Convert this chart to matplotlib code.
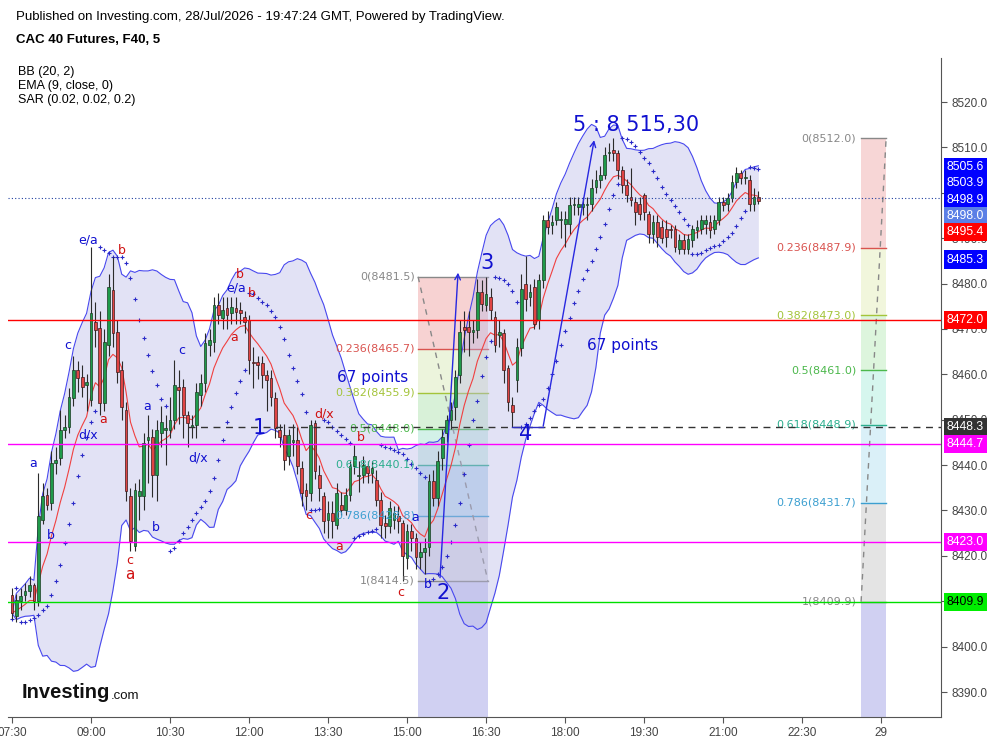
import matplotlib
matplotlib.use("Agg")
import matplotlib.pyplot as plt
import numpy as np
import pandas as pd
from matplotlib.transforms import blended_transform_factory

# 5-minute candles, CAC 40 futures, 07:30 onwards (bar index 0 = 07:30)
opens = [8411.4, 8406.7, 8410.0, 8411.4, 8412.2, 8413.6, 8410.0, 8428.0, 8433.4, 8431.6,
         8440.4, 8441.5, 8447.8, 8448.5, 8454.7, 8461.0, 8459.5, 8457.7, 8454.4, 8471.6,
         8470.1, 8453.6, 8466.5, 8478.6, 8469.4, 8461.0, 8452.2, 8433.1, 8422.1, 8433.1,
         8433.1, 8445.6, 8446.3, 8437.9, 8447.0, 8447.8, 8447.8, 8450.0, 8457.3, 8457.3,
         8451.1, 8448.5, 8448.9, 8455.5, 8458.0, 8466.5, 8467.2, 8475.3, 8472.4, 8474.6,
         8473.5, 8474.7, 8474.2, 8472.7, 8472.0, 8462.8, 8462.8, 8462.4, 8459.9, 8459.1,
         8454.7, 8447.8, 8446.7, 8441.9, 8445.2, 8445.6, 8439.3, 8434.6, 8433.8, 8449.2,
         8437.9, 8433.1, 8427.9, 8429.4, 8426.8, 8431.3, 8430.2, 8433.5, 8439.7, 8437.5,
         8437.9, 8439.7, 8438.2, 8436.8, 8432.4, 8427.2, 8426.5, 8428.0, 8428.7, 8427.2,
         8419.5, 8425.4, 8423.9, 8419.8, 8420.9, 8422.0, 8436.4, 8432.7, 8441.5, 8447.0,
         8449.9, 8452.9, 8459.9, 8470.5, 8470.5, 8469.4, 8469.8, 8478.2, 8475.3, 8477.1,
         8472.7, 8468.7, 8469.0, 8461.3, 8453.2, 8458.8, 8465.7, 8480.0, 8477.1, 8479.3,
         8472.0, 8480.8, 8494.0, 8492.9, 8494.0, 8494.0, 8493.2, 8493.2, 8497.3, 8496.9,
         8496.9, 8497.3, 8497.6, 8501.3, 8502.8, 8503.9, 8508.7, 8509.4, 8508.7, 8505.0,
         8501.7, 8499.1, 8498.0, 8497.6, 8499.5, 8495.4, 8491.0, 8493.6, 8492.5, 8492.1,
         8491.9, 8492.1, 8487.7, 8489.6, 8487.7, 8489.6, 8491.8, 8492.1, 8493.2, 8493.6,
         8492.1, 8494.0, 8498.0, 8497.6, 8498.8, 8502.4, 8504.3, 8503.2, 8502.8, 8497.6,
         8499.0]
closes = [8407.4, 8410.3, 8411.1, 8412.2, 8413.6, 8410.0, 8428.7, 8433.1, 8431.2, 8440.4,
          8441.2, 8447.8, 8448.5, 8455.1, 8461.0, 8459.1, 8457.3, 8458.4, 8473.5, 8469.8,
          8453.6, 8467.2, 8479.3, 8469.0, 8460.6, 8452.9, 8434.2, 8423.2, 8434.5, 8434.2,
          8444.8, 8446.3, 8437.9, 8447.8, 8449.6, 8448.1, 8450.0, 8457.7, 8456.6, 8451.1,
          8449.2, 8448.9, 8456.2, 8458.0, 8467.0, 8467.6, 8475.3, 8473.1, 8474.2, 8473.1,
          8474.9, 8473.8, 8473.5, 8471.6, 8463.2, 8462.4, 8462.1, 8459.9, 8458.8, 8455.1,
          8448.1, 8446.3, 8441.2, 8446.7, 8445.6, 8439.7, 8433.8, 8433.1, 8448.9, 8438.6,
          8434.9, 8427.6, 8429.4, 8427.6, 8433.8, 8430.2, 8433.5, 8439.7, 8441.9, 8437.9,
          8440.1, 8438.2, 8439.3, 8432.4, 8426.8, 8426.5, 8430.5, 8429.4, 8427.6, 8419.9,
          8425.4, 8423.9, 8419.8, 8420.9, 8421.7, 8436.4, 8432.7, 8440.8, 8446.3, 8449.9,
          8452.1, 8459.5, 8469.4, 8469.8, 8469.4, 8469.8, 8478.2, 8475.6, 8477.8, 8474.2,
          8466.5, 8469.4, 8461.0, 8454.0, 8451.8, 8466.1, 8478.9, 8476.7, 8478.2, 8471.2,
          8480.8, 8494.0, 8492.5, 8493.6, 8496.9, 8494.3, 8494.3, 8497.3, 8497.6, 8497.6,
          8497.6, 8497.6, 8501.0, 8502.8, 8503.9, 8508.3, 8509.0, 8508.7, 8505.0, 8501.7,
          8499.5, 8498.4, 8495.8, 8495.4, 8495.8, 8491.0, 8493.6, 8490.3, 8490.0, 8490.3,
          8491.8, 8488.1, 8489.6, 8487.7, 8489.9, 8492.1, 8492.5, 8494.0, 8494.0, 8491.8,
          8494.0, 8498.0, 8497.3, 8498.8, 8502.4, 8504.3, 8503.2, 8503.5, 8497.6, 8499.1,
          8498.3]
highs = [8412.9, 8411.5, 8413.0, 8414.0, 8415.5, 8414.0, 8438.2, 8436.0, 8435.0, 8443.0,
         8444.0, 8452.2, 8451.0, 8457.0, 8464.0, 8463.0, 8462.0, 8460.0, 8488.1, 8476.0,
         8474.0, 8470.0, 8482.0, 8485.9, 8472.0, 8463.0, 8454.0, 8435.0, 8436.0, 8437.0,
         8447.0, 8451.0, 8448.0, 8450.0, 8453.0, 8451.0, 8455.0, 8463.2, 8461.0, 8459.0,
         8452.0, 8451.0, 8458.0, 8460.0, 8469.0, 8470.0, 8477.0, 8478.0, 8477.0, 8477.0,
         8477.0, 8477.1, 8476.0, 8474.0, 8473.0, 8466.0, 8464.0, 8464.0, 8461.0, 8461.0,
         8456.0, 8449.0, 8449.0, 8448.0, 8449.0, 8448.5, 8441.0, 8436.0, 8450.0, 8450.0,
         8440.0, 8434.0, 8432.0, 8432.0, 8436.0, 8434.0, 8435.0, 8441.0, 8444.5, 8441.0,
         8442.0, 8441.0, 8441.0, 8439.0, 8434.0, 8429.0, 8432.0, 8431.0, 8431.0, 8428.0,
         8427.0, 8427.0, 8425.0, 8423.0, 8424.0, 8438.0, 8439.0, 8443.0, 8448.0, 8451.0,
         8454.0, 8461.0, 8472.0, 8474.0, 8474.0, 8472.0, 8481.0, 8480.8, 8481.5, 8479.0,
         8474.0, 8472.0, 8470.0, 8462.0, 8455.0, 8468.0, 8482.0, 8486.0, 8480.0, 8481.0,
         8482.0, 8495.0, 8496.0, 8495.0, 8498.0, 8496.0, 8496.0, 8499.0, 8499.0, 8499.0,
         8499.0, 8499.0, 8503.0, 8505.0, 8506.0, 8510.0, 8511.0, 8512.0, 8509.5, 8506.0,
         8503.0, 8505.4, 8499.0, 8499.0, 8500.0, 8496.0, 8495.0, 8495.0, 8494.0, 8494.0,
         8493.0, 8493.0, 8491.0, 8491.0, 8491.0, 8493.0, 8494.0, 8495.0, 8495.0, 8495.0,
         8495.0, 8499.0, 8499.0, 8500.0, 8504.0, 8505.6, 8505.0, 8505.0, 8504.0, 8501.0,
         8500.5]
lows = [8406.0, 8405.5, 8408.0, 8410.0, 8411.0, 8408.1, 8409.0, 8427.0, 8430.0, 8430.0,
        8438.0, 8440.0, 8446.0, 8447.0, 8453.0, 8456.0, 8455.0, 8452.0, 8453.0, 8466.0,
        8451.0, 8452.0, 8464.0, 8466.0, 8458.0, 8450.0, 8432.0, 8421.0, 8421.0, 8428.0,
        8430.0, 8436.0, 8433.0, 8432.0, 8444.0, 8440.0, 8446.0, 8448.0, 8449.0, 8446.0,
        8444.0, 8446.0, 8446.0, 8453.0, 8456.0, 8464.0, 8465.0, 8471.0, 8470.0, 8470.0,
        8471.0, 8471.0, 8471.0, 8469.0, 8460.0, 8457.0, 8459.0, 8457.0, 8452.0, 8453.0,
        8446.0, 8444.0, 8439.0, 8440.0, 8442.0, 8438.0, 8431.0, 8430.0, 8432.0, 8437.0,
        8432.0, 8425.0, 8424.0, 8424.0, 8426.0, 8429.0, 8429.0, 8432.0, 8438.0, 8434.0,
        8436.0, 8436.0, 8436.0, 8431.0, 8424.0, 8424.0, 8425.0, 8426.0, 8425.0, 8414.5,
        8417.0, 8421.0, 8417.0, 8417.0, 8416.0, 8420.0, 8431.0, 8431.0, 8439.0, 8445.0,
        8448.0, 8450.0, 8458.0, 8465.0, 8464.0, 8467.0, 8468.0, 8474.0, 8474.0, 8472.0,
        8465.0, 8466.0, 8458.0, 8452.0, 8448.3, 8456.0, 8464.0, 8474.0, 8475.0, 8470.0,
        8470.0, 8479.0, 8491.0, 8491.0, 8493.0, 8490.0, 8488.0, 8491.0, 8495.0, 8495.0,
        8495.0, 8494.0, 8496.0, 8500.0, 8501.0, 8503.0, 8507.0, 8507.0, 8503.0, 8500.0,
        8498.0, 8497.0, 8493.0, 8494.0, 8494.0, 8489.0, 8489.0, 8488.0, 8489.0, 8488.0,
        8490.0, 8487.0, 8486.5, 8486.5, 8486.5, 8488.0, 8490.0, 8491.0, 8491.0, 8490.0,
        8491.0, 8493.0, 8496.0, 8496.0, 8498.0, 8501.0, 8502.0, 8502.0, 8496.0, 8496.0,
        8497.5]

tick_pos = [0, 18, 36, 54, 72, 90, 108, 126, 144, 162, 180, 198]
tick_labels = ["07:30", "09:00", "10:30", "12:00", "13:30", "15:00", "16:30",
               "18:00", "19:30", "21:00", "22:30", "29"]

fib_ratios = [0, 0.236, 0.382, 0.5, 0.618, 0.786, 1]
fib_colors = ["#888888", "#d9534f", "#a4c43a", "#4cb84c", "#2cae8e", "#3c9fd0", "#888888"]
fib_zone_left = ["#f7d2d2", "#ecf4dc", "#d8f1d8", "#d3f1e8", "#c2ddef", "#dcdce6"]
fib_zone_right = ["#f7d6d6", "#f1f6dc", "#ddf5dd", "#d6f6ee", "#daf0f8", "#e4e4e4"]
fib1_high, fib1_low = 8481.5, 8414.5
fib2_high, fib2_low = 8512.0, 8409.9

hlines = [(8472.0, "#ff0000"), (8444.7, "#ff00ff"), (8423.0, "#ff00ff"), (8409.9, "#00dd00")]

price_tags = [(8505.6, "#0000ff", "white"), (8503.9, "#0000ff", "white"),
              (8498.9, "#0000ff", "white"), (8498.0, "#5b7fe6", "white"),
              (8495.4, "#ff0000", "white"), (8485.3, "#0000ff", "white"),
              (8472.0, "#ff0000", "white"), (8448.3, "#333333", "white"),
              (8444.7, "#ff00ff", "white"), (8423.0, "#ff00ff", "white"),
              (8409.9, "#00ee00", "black")]

# wave labels: (bar, price, text, colour, size)
wave_labels = [
    (17.3, 8489.6, "e/a", "#1010d0", 9), (25.1, 8487.2, "b", "#d01010", 9),
    (12.8, 8466.3, "c", "#1010d0", 9), (20.7, 8450.0, "a", "#d01010", 9),
    (17.3, 8446.7, "d/x", "#1010d0", 9), (4.8, 8440.3, "a", "#1010d0", 9),
    (8.9, 8424.4, "b", "#1010d0", 9), (26.9, 8419.0, "c", "#d01010", 9),
    (26.9, 8416.0, "a", "#d01010", 11), (32.8, 8426.2, "b", "#1010d0", 9),
    (30.8, 8453.0, "a", "#1010d0", 9), (38.7, 8465.2, "c", "#1010d0", 9),
    (42.4, 8441.6, "d/x", "#1010d0", 9), (51.9, 8482.1, "b", "#d01010", 9),
    (51.0, 8479.0, "e/a", "#1010d0", 9), (54.7, 8477.9, "b", "#d01010", 9),
    (50.6, 8468.2, "a", "#d01010", 9), (71.1, 8451.3, "d/x", "#d01010", 9),
    (79.5, 8446.0, "b", "#d01010", 9), (67.7, 8429.0, "c", "#d01010", 9),
    (74.5, 8422.0, "a", "#d01010", 9), (91.8, 8428.4, "a", "#1010d0", 9),
    (88.6, 8411.9, "c", "#d01010", 9), (94.8, 8413.6, "b", "#1010d0", 9),
    (56.3, 8448.2, "1", "#1010d0", 15), (98.2, 8411.9, "2", "#1010d0", 15),
    (108.2, 8484.5, "3", "#1010d0", 15), (116.9, 8446.9, "4", "#1010d0", 15),
    (142.1, 8514.9, "5 : 8 515,30", "#1010d0", 15),
    (82.2, 8459.4, "67 points", "#1010d0", 11), (139.0, 8466.3, "67 points", "#1010d0", 11),
]


def parabolic_sar(high, low, af0=0.02, step=0.02, afmax=0.2):
    n = len(high)
    sar = np.zeros(n)
    bull = True
    af = af0
    ep = high[0]
    sar[0] = low[0]
    for i in range(1, n):
        prev = sar[i - 1]
        s = prev + af * (ep - prev)
        if bull:
            s = min(s, low[i - 1], low[max(i - 2, 0)])
            if low[i] < s:
                bull, s, ep, af = False, ep, low[i], af0
            elif high[i] > ep:
                ep = high[i]
                af = min(af + step, afmax)
        else:
            s = max(s, high[i - 1], high[max(i - 2, 0)])
            if high[i] > s:
                bull, s, ep, af = True, ep, high[i], af0
            elif low[i] < ep:
                ep = low[i]
                af = min(af + step, afmax)
        sar[i] = s
    return sar


o = np.array(opens)
c = np.array(closes)
h = np.maximum(np.array(highs), np.maximum(o, c))
l = np.minimum(np.array(lows), np.minimum(o, c))
idx = np.arange(len(c))

cs = pd.Series(c)
basis = cs.rolling(20, min_periods=1).mean()
dev = cs.rolling(20, min_periods=1).std(ddof=0)
upper = basis + 2 * dev
lower = basis - 2 * dev
ema = cs.ewm(span=9, adjust=False).mean()
sar = parabolic_sar(h, l)

fig = plt.figure(figsize=(9.93, 7.41), dpi=100)
ax = fig.add_axes([8 / 993, 1 - 717 / 741, 933 / 993, 659 / 741])
ymin, ymax = 8384.5, 8529.7
ax.set_xlim(-0.9, 211.6)
ax.set_ylim(ymin, ymax)


def draw_fib(x0, x1, hi, lo, zones, label_x):
    levels = [hi - r * (hi - lo) for r in fib_ratios]
    for k in range(len(levels) - 1):
        ax.fill_between([x0, x1], levels[k + 1], levels[k], color=zones[k], lw=0, zorder=0)
    ax.fill_between([x0, x1], ymin, lo, color="#d0d0f2", lw=0, zorder=0)
    for r, lev, col in zip(fib_ratios, levels, fib_colors):
        ax.plot([x0, x1], [lev, lev], color=col, lw=1, zorder=1)
        txt = f"{r:g}({lev + 1e-6:.1f})"
        ax.text(label_x, lev, txt, color=col, fontsize=8, ha="right", va="center",
                family="DejaVu Sans", zorder=5)


draw_fib(92.5, 108.4, fib1_high, fib1_low, fib_zone_left, 91.8)
ax.plot([92.5, 108.4], [fib1_high, fib1_low], color="#888888", lw=1, ls=(0, (4, 4)), zorder=1)
draw_fib(193.4, 199.1, fib2_high, fib2_low, fib_zone_right, 192.3)
ax.plot([193.4, 199.1], [fib2_low, fib2_high], color="#888888", lw=1, ls=(0, (4, 4)), zorder=1)

# Bollinger bands, EMA, SAR
ax.fill_between(idx, lower, upper, color="#b8b8e6", alpha=0.4, lw=0, zorder=1)
ax.plot(idx, upper, color="#4848ee", lw=0.8, zorder=2)
ax.plot(idx, lower, color="#4848ee", lw=0.8, zorder=2)
ax.plot(idx, ema, color="#f04040", lw=0.8, zorder=2)
ax.plot(idx, sar, ls="none", marker="+", ms=3, mew=0.8, color="#2a2ac8", zorder=2)

# candles
up = c >= o
ax.vlines(idx, l, h, color="#2b2b2b", lw=0.8, zorder=3)
body = np.maximum(np.abs(c - o), 0.25)
ax.bar(idx[up], body[up], bottom=o[up], width=0.62, color="#1f9a4a",
       edgecolor="#1b3b22", lw=0.5, zorder=4)
ax.bar(idx[~up], body[~up], bottom=c[~up], width=0.62, color="#e04444",
       edgecolor="#3b1b1b", lw=0.5, zorder=4)

# horizontal levels
for price, col in hlines:
    ax.axhline(price, color=col, lw=1, zorder=5)
ax.plot([40, 211.6], [8448.3, 8448.3], color="#333333", lw=1, ls=(0, (5, 4)), zorder=5)
ax.axhline(8498.9, color="#2040a0", lw=0.8, ls=(0, (1, 2)), zorder=5)
ax.plot([114, 121], [8448.3, 8448.3], color="#3030c0", lw=1, zorder=5)

# wave arrows
arrow = dict(arrowstyle="->", color="#2828e0", lw=1, shrinkA=0, shrinkB=0)
ax.annotate("", xy=(101.6, 8482.4), xytext=(97.5, 8415.2), arrowprops=arrow, zorder=6)
ax.annotate("", xy=(132.6, 8511.6), xytext=(121.0, 8448.6), arrowprops=arrow, zorder=6)

for x, y, t, col, fs in wave_labels:
    ax.text(x, y, t, color=col, fontsize=fs, ha="center", va="center",
            family="DejaVu Sans", zorder=6)

# axes styling
for side in ["left", "top"]:
    ax.spines[side].set_visible(False)
for side in ["right", "bottom"]:
    ax.spines[side].set_color("#555555")
ax.yaxis.tick_right()
yt = np.arange(8390, 8521, 10)
ax.set_yticks(yt)
ax.set_yticklabels([f"{v:.1f}" for v in yt], family="Liberation Sans")
ax.set_xticks(tick_pos)
ax.set_xticklabels(tick_labels, family="Liberation Sans")
ax.tick_params(axis="both", colors="#555555", labelsize=8.5, length=4, width=0.8)
ax.tick_params(axis="y", labelcolor="#444444")
ax.tick_params(axis="x", labelcolor="#444444")

# price tags on the scale, pushed apart so they do not overlap
trans = blended_transform_factory(ax.transAxes, ax.transData)
gap = 3.55
prev_y = None
for price, bg, fg in sorted(price_tags, key=lambda t: -t[0]):
    y = price if prev_y is None else min(price, prev_y - gap)
    prev_y = y
    ax.text(1.006, y, f"{price:.1f}", transform=trans, color=fg, fontsize=8.8,
            ha="left", va="center", zorder=10, clip_on=False, family="Liberation Sans",
            bbox=dict(boxstyle="square,pad=0.25", fc=bg, ec="none"))

# header
fig.text(16 / 993, 1 - 17 / 741, "Published on Investing.com, 28/Jul/2026 - 19:47:24 GMT, Powered by TradingView.",
         fontsize=9.5, va="center", family="Liberation Sans")
fig.text(16 / 993, 1 - 40 / 741, "CAC 40 Futures, F40, 5", fontsize=9.5, fontweight="bold",
         va="center", family="Liberation Sans")
for k, t in enumerate(["BB (20, 2)", "EMA (9, close, 0)", "SAR (0.02, 0.02, 0.2)"]):
    fig.text(18 / 993, 1 - (72 + 14 * k) / 741, t, fontsize=9, va="center", family="Liberation Sans")

fig.text(22 / 993, 1 - 693 / 741, "Investing", fontsize=14.5, fontweight="bold", va="center",
         family="Liberation Sans", color="#111111")
fig.text(111 / 993, 1 - 696 / 741, ".com", fontsize=9.5, va="center",
         family="Liberation Sans", color="#111111")

fig.savefig("out.png", dpi=100)
